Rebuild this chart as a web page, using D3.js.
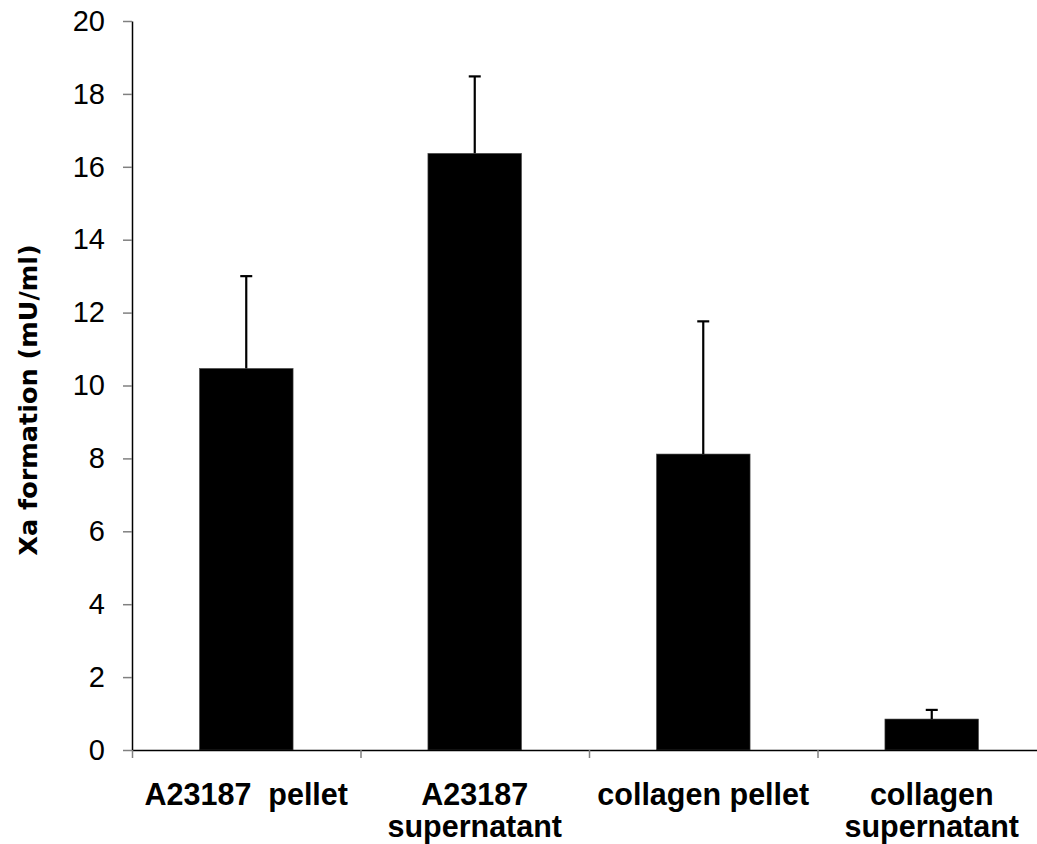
<!DOCTYPE html>
<html>
<head>
<meta charset="utf-8">
<script src="https://cdn.jsdelivr.net/npm/d3@7"></script>
<style>
  html, body { margin: 0; padding: 0; background: #fff; overflow: hidden; }
  svg { display: block; }
</style>
</head>
<body>
<div id="chart"></div>
<script>
// data
const categories = ['A23187 pellet', 'A23187 supernatant', 'collagen pellet', 'collagen supernatant'];
const labelLines = [['A23187  pellet'], ['A23187', 'supernatant'], ['collagen pellet'], ['collagen', 'supernatant']];
const means = [10.47, 16.37, 8.12, 0.85];
const errors = [2.53, 2.11, 3.64, 0.25];
const yTicks = [0, 2, 4, 6, 8, 10, 12, 14, 16, 18, 20];

const width = 1037, height = 844;
const margin = { left: 132, top: 21, bottom: 750, right: 1046 };

const svg = d3.select('#chart').append('svg')
  .attr('width', width)
  .attr('height', height);

const y = d3.scaleLinear().domain([0, 20]).range([margin.bottom, margin.top]);

const x = d3.scaleBand()
  .domain(categories)
  .range([margin.left, margin.right])
  .paddingInner(0.59)
  .paddingOuter(0.295);

// category boundaries for the x ticks
const xEdges = d3.scaleLinear().domain([0, categories.length]).range([margin.left, margin.right]);

// bars
svg.append('g')
  .selectAll('rect')
  .data(categories)
  .join('rect')
  .attr('x', d => x(d))
  .attr('y', (d, i) => y(means[i]))
  .attr('width', x.bandwidth())
  .attr('height', (d, i) => y(0) - y(means[i]))
  .attr('fill', '#000')
  .attr('stroke', '#555')
  .attr('stroke-width', 0.6);

// error bars (upper only)
const err = svg.append('g').attr('stroke', '#000').attr('stroke-width', 2.2);
categories.forEach((c, i) => {
  const cx = x(c) + x.bandwidth() / 2;
  err.append('line')
    .attr('x1', cx).attr('x2', cx)
    .attr('y1', y(means[i])).attr('y2', y(means[i] + errors[i]));
  err.append('line')
    .attr('x1', cx - 6).attr('x2', cx + 6)
    .attr('y1', y(means[i] + errors[i])).attr('y2', y(means[i] + errors[i]));
});

// y axis
svg.append('g')
  .attr('transform', `translate(${margin.left},0)`)
  .call(d3.axisLeft(y).tickValues(yTicks).tickSize(9).tickPadding(18).tickSizeOuter(0))
  .call(g => g.select('.domain').attr('stroke', '#000').attr('stroke-width', 1.5))
  .call(g => g.selectAll('.tick line').attr('stroke', '#808080').attr('stroke-width', 1.5))
  .call(g => g.selectAll('.tick text')
    .attr('fill', '#000')
    .attr('font-family', 'Liberation Sans, Arial, sans-serif')
    .attr('font-size', 29));

// x axis
svg.append('g')
  .attr('transform', `translate(0,${margin.bottom})`)
  .call(d3.axisBottom(xEdges).tickValues(d3.range(categories.length + 1)).tickFormat('').tickSize(8).tickSizeOuter(0))
  .call(g => g.select('.domain').attr('stroke', '#000').attr('stroke-width', 1.5))
  .call(g => g.selectAll('.tick line').attr('stroke', '#808080').attr('stroke-width', 1.5));

// category labels
const lab = svg.append('g')
  .attr('font-family', 'Liberation Sans, Arial, sans-serif')
  .attr('font-weight', 'bold')
  .attr('font-size', 30.5)
  .attr('text-anchor', 'middle')
  .attr('fill', '#000');

categories.forEach((c, i) => {
  const t = lab.append('text')
    .attr('x', x(c) + x.bandwidth() / 2)
    .attr('y', 805)
    .style('white-space', 'pre');
  labelLines[i].forEach((line, j) => {
    t.append('tspan')
      .attr('x', x(c) + x.bandwidth() / 2)
      .attr('dy', j === 0 ? 0 : 32)
      .text(line);
  });
});

// y axis title
svg.append('text')
  .attr('transform', 'translate(37,400) rotate(-90)')
  .attr('text-anchor', 'middle')
  .attr('font-family', 'DejaVu Sans, sans-serif')
  .attr('font-weight', 'bold')
  .attr('font-size', 25.5)
  .attr('fill', '#000')
  .text('Xa formation (mU/ml)');
</script>
</body>
</html>
